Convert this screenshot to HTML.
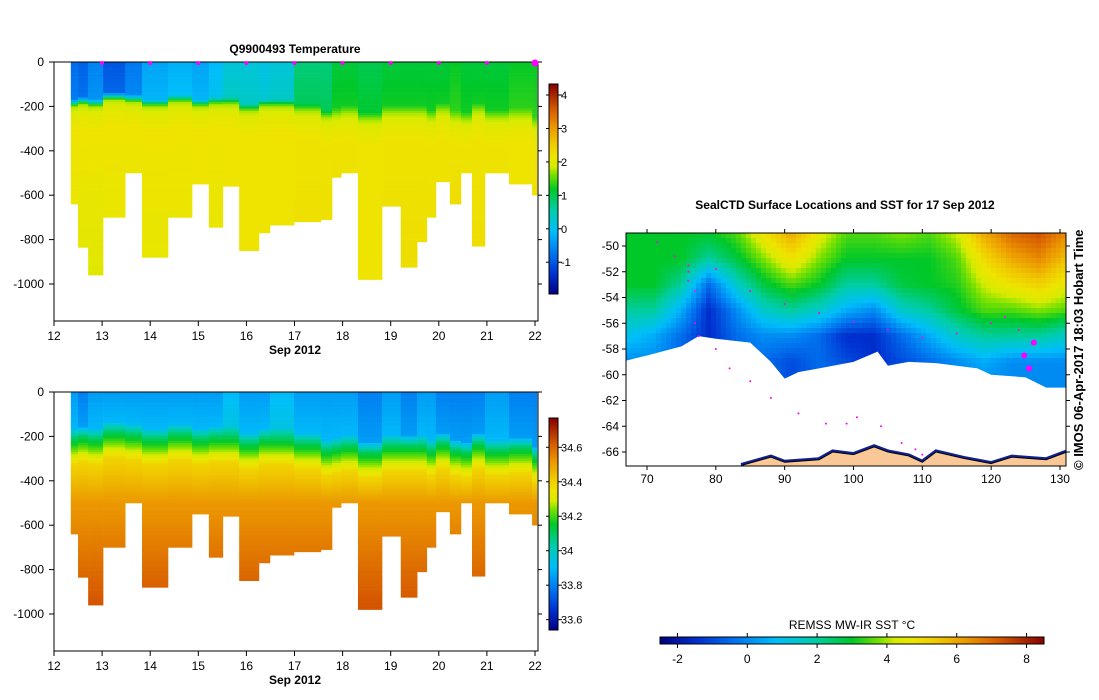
<!DOCTYPE html>
<html><head><meta charset="utf-8">
<style>
body{margin:0;background:#fff;width:1099px;height:700px;overflow:hidden}
svg{display:block;font-family:"Liberation Sans","DejaVu Sans",sans-serif}
text{font-size:12px;fill:#000}
.b{font-weight:bold}
</style></head>
<body>
<svg id="s" width="1099" height="700"></svg>
<script>
// ---- profile data ----
const colDay=[12.35,12.50,12.71,13.02,13.48,13.83,14.37,14.87,15.22,15.51,15.85,16.26,16.49,16.99,17.55,17.78,17.97,18.32,18.82,19.21,19.55,19.75,19.94,20.23,20.46,20.69,20.96,21.46,21.94,22.04];
const colDepth=[640,835,960,700,500,880,700,550,745,560,850,770,735,720,710,520,500,980,650,925,810,700,540,640,500,830,500,550,600];
const surfT=[-0.8,-0.9,-0.6,-1.0,-0.7,-0.3,-0.2,-0.3,-0.1,0.2,0.2,0.1,0.2,0.8,0.8,1.1,1.1,1.0,1.1,1.1,1.1,1.1,1.1,1.2,1.1,1.1,1.1,1.2,1.2];
const mld=[170,160,170,140,150,170,150,170,160,160,190,170,170,190,220,210,200,230,200,200,200,220,190,220,230,190,220,210,250];
const deepT=[2.1,2.0,2.0,2.1,2.1,2.1,2.1,2.2,2.1,2.2,2.2,2.2,2.2,2.3,2.3,2.4,2.3,2.2,2.3,2.3,2.3,2.3,2.3,2.4,2.3,2.3,2.3,2.2,2.3];
const surfS=[33.85,33.8,33.85,33.85,33.85,33.85,33.85,33.85,33.85,33.9,33.85,33.85,33.9,33.85,33.85,33.85,33.85,33.8,33.85,33.8,33.85,33.85,33.8,33.8,33.8,33.8,33.85,33.8,33.8];
const dayTicks=[12,13,14,15,16,17,18,19,20,21,22];
const depthTicks=[0,-200,-400,-600,-800,-1000];
const tTicks=[-1,0,1,2,3,4];
const sTicks=[33.6,33.8,34,34.2,34.4,34.6];
// ---- map data ----
const sstLons=[67,71,75,79,83,87,91,95,99,103,107,111,115,119,123,127,131];
const sstLats=[-49,-51,-53,-55,-57,-59,-61];
const sstRows=[
[3,3,3,3,3.5,4.8,6,4.5,3.5,3.5,3.8,3.5,4.2,6,7,7.3,6.5],
[3,3,3,2,2.8,3.8,4.8,3.8,3,3,3,3,3.5,5,6,6.5,5.5],
[3,3,2,-0.5,1.5,2.8,3.5,3,2,2,2.8,3,3.2,4.2,4.8,5.2,4.5],
[2,2,0.5,-1.5,0,1.5,2,1.5,0.5,0,1.5,2,2.8,3.5,3.5,3.8,3.5],
[1,0.5,-0.5,-1.5,-0.5,0,0,-0.5,-1.5,-1.5,-0.5,0.5,1.5,2,2,2,1.5],
[0,0,-0.5,-1,-0.5,-0.5,-1,-0.5,-1,-1.5,-1,-0.5,0,0.5,0,0,0],
[0,0,0,0,0,-0.5,-1,-0.5,0,0,0,0,0,0,0,0,0]];
const iceLon=[67,70,75,77.5,80,85,88,90,92,95,100,103.5,105,108,112,118,120,125,128,131];
const iceLat=[-58.9,-58.5,-57.8,-57,-57.2,-57.5,-59,-60.3,-59.8,-59.5,-59,-58.2,-59.3,-59,-59.1,-59.5,-60,-60.2,-61,-61];
const landLon=[84,88,90,95,97,100,103,105,108,110,112,116,120,123,128,131];
const landLat=[-67,-66.4,-66.8,-66.6,-66,-66.2,-65.6,-66,-66.3,-66.8,-66,-66.5,-66.9,-66.4,-66.6,-66];
const trackLon=[71.5,74,76,76,77,77,77.5,80,82,85,88,92,96,99,100.5,104,107,109,110, 76,80,85,90,95,100,105,110,115,120,122,124,124.8,125.5,126.2];
const trackLat=[-49.7,-50.8,-52,-52.7,-53.5,-56,-57,-58,-59.5,-60.5,-61.8,-63,-63.8,-63.8,-63.3,-64,-65.3,-65.8,-66.2, -51.5,-51.8,-53.5,-54.5,-55.2,-55.9,-56.5,-57.1,-56.8,-56,-55.5,-56.5,-58.5,-59.5,-57.5];
const sstTicks=[-2,0,2,4,6,8];
const lonTicks=[70,80,90,100,110,120,130];
const latTicks=[-50,-52,-54,-56,-58,-60,-62,-64,-66];

const NS="http://www.w3.org/2000/svg";
const svg=document.getElementById('s');
function el(tag,attrs,parent){const e=document.createElementNS(NS,tag);for(const k in attrs)e.setAttribute(k,attrs[k]);(parent||svg).appendChild(e);return e;}
function txt(x,y,s,anchor,cls,parent){const t=el('text',{x:x,y:y,'text-anchor':anchor||'middle'},parent);if(cls)t.setAttribute('class',cls);t.textContent=s;return t;}
const stops=[[0,0,0,130],[0.1,0,50,210],[0.2,0,120,240],[0.3,0,190,250],[0.4,0,205,170],[0.5,0,200,40],[0.57,120,225,0],[0.61,215,235,0],[0.66,238,228,0],[0.72,240,200,0],[0.8,235,150,0],[0.88,215,90,0],[1,135,0,0]];
function cmap(f){f=Math.max(0,Math.min(1,f));for(let i=1;i<stops.length;i++){if(f<=stops[i][0]){const a=stops[i-1],b=stops[i],t=(f-a[0])/(b[0]-a[0]);return `rgb(${Math.round(a[1]+t*(b[1]-a[1]))},${Math.round(a[2]+t*(b[2]-a[2]))},${Math.round(a[3]+t*(b[3]-a[3]))})`;}}return 'rgb(135,0,0)';}
function lerp(x,xs,ys){if(x<=xs[0])return ys[0];for(let i=1;i<xs.length;i++)if(x<=xs[i])return ys[i-1]+(x-xs[i-1])/(xs[i]-xs[i-1])*(ys[i]-ys[i-1]);return ys[ys.length-1];}

function tempAt(i,z){const m=mld[i];if(z<m)return surfT[i]+z/m*0.15;return lerp(z,[m,m+30,m+80,m+150,1000],[surfT[i]+0.2,1.75,2.05,2.2,deepT[i]]);}
function salAt(i,z){const m=mld[i];if(z<m)return surfS[i]+z/m*0.05;return lerp(z,[m,m+40,m+160,500,950],[surfS[i]+0.1,34.1,34.4,34.52,34.63]);}

function panel(oy,name,title,valFn,vmin,vmax,ticks,cbTop,cbBot,fmt){
  const g=el('g',{},svg);
  
  
  const X0=54,X1=538,Y0=oy,pxm=0.222;
  const xS=d=>X0+(d-12)*48.1, yS=z=>Y0+z*pxm;
  for(let i=0;i<colDepth.length;i++){
    const x0=xS(colDay[i]),x1=xS(colDay[i+1]);
    for(let z=0;z<colDepth[i];z+=10){
      const r=el('rect',{x:x0,y:yS(z),width:x1-x0+0.3,height:Math.min(10,colDepth[i]-z)*pxm+0.3,fill:cmap((valFn(i,z+5)-vmin)/(vmax-vmin))},g);
      
      
    }
  }
  const fr=el('rect',{x:X0,y:Y0,width:X1-X0,height:259,fill:'none',stroke:'#000','stroke-width':1},g);
  
  
  dayTicks.forEach(d=>{const x=xS(d);el('line',{x1:x,x2:x,y1:Y0+259,y2:Y0+264,stroke:'#000'},g);const t=txt(x,Y0+278,d,'middle','',g);});
  depthTicks.forEach(v=>{const y=yS(-v);el('line',{x1:X0-5,x2:X0,y1:y,y2:y,stroke:'#000'},g);el('line',{x1:X1,x2:X1+4,y1:y,y2:y,stroke:'#000'},g);const t=txt(X0-10,y+4,v,'end','',g);});
  const xt=txt(295,Y0+292,'Sep 2012','middle','b',g);
  if(title){const tt=txt(295,Y0-9,title,'middle','b',g);}
  const cx=549,cw=9;
  for(let y=cbTop;y<cbBot;y++){el('rect',{x:cx,y:y,width:cw,height:1.2,fill:cmap(1-(y-cbTop)/(cbBot-cbTop))},g);}
  const cb=el('rect',{x:cx,y:cbTop,width:cw,height:cbBot-cbTop,fill:'none',stroke:'#000'},g);
  
  
  ticks.forEach(v=>{const y=cbBot-(v-vmin)/(vmax-vmin)*(cbBot-cbTop);el('line',{x1:cx+cw,x2:cx+cw+4,y1:y,y2:y,stroke:'#000'},g);el('line',{x1:cx-3,x2:cx,y1:y,y2:y,stroke:'#000'},g);const t=txt(cx+cw+3,y+4,fmt(v),'start','',g);t.style.fontSize='11px';});
  return {xS,Y0,g};
}
const p1=panel(62,'temperature-panel','Q9900493  Temperature',tempAt,-1.95,4.33,tTicks,84,294,v=>v);
dayTicks.forEach(d=>{if(d>12){const m=el('circle',{cx:p1.xS(d),cy:63,r:d==22?3.5:2,fill:'#f0f'},p1.g);}});
panel(392,'salinity-panel','',salAt,33.54,34.77,sTicks,418,630,v=>String(v));

// ---- map ----
const mg=el('g',{},svg);


const MX0=626,MX1=1066,MY0=233,MY1=466;
const lx=lon=>647+(lon-70)*6.883, ly=lat=>246+(-50-lat)*12.875;
const sMin=-2.5,sMax=8.5;
const cp=el('clipPath',{id:'mc'},mg);el('rect',{x:MX0,y:MY0,width:MX1-MX0,height:MY1-MY0},cp);
const mi=el('g',{'clip-path':'url(#mc)'},mg);
function sstAt(lon,lat){
  const ci=Math.max(0,Math.min(sstLons.length-1.001,(lon-sstLons[0])/4));
  const ri=Math.max(0,Math.min(sstLats.length-1.001,(sstLats[0]-lat)/2));
  const c=Math.floor(ci),r=Math.floor(ri),fc=ci-c,fr=ri-r;
  const a=sstRows[r][c],b=sstRows[r][c+1],cc=sstRows[r+1][c],dd=sstRows[r+1][c+1];
  return (a*(1-fc)+b*fc)*(1-fr)+(cc*(1-fc)+dd*fc)*fr;
}
const step=5;
for(let y=MY0;y<ly(-62);y+=step)for(let x=MX0;x<MX1;x+=step){
  const lon=70+(x+step/2-647)/6.883, lat=-50-(y+step/2-246)/12.875;
  const cell=el('rect',{x:x,y:y,width:step+0.3,height:step+0.3,fill:cmap((sstAt(lon,lat)-sMin)/(sMax-sMin))},mi);
  
  
}
let d=`M${lx(62)},${ly(iceLat[0])}`;iceLon.forEach((lo,i)=>d+=` L${lx(lo)},${ly(iceLat[i])}`);d+=` L${lx(135)},${ly(iceLat[iceLat.length-1])} L${lx(135)},${ly(-70)} L${lx(62)},${ly(-70)}Z`;
const ice=el('path',{d:d,fill:'#fff'},mi);
let ld=`M${lx(landLon[0])},${ly(-68)}`;landLon.forEach((lo,i)=>ld+=` L${lx(lo)},${ly(landLat[i])}`);ld+=` L${lx(135)},${ly(landLat[landLat.length-1])} L${lx(135)},${ly(-68)}Z`;
const coast=el('path',{d:ld,fill:'none',stroke:'#102090','stroke-width':5},mi);
const land=el('path',{d:ld,fill:'#fac896',stroke:'#000','stroke-width':1},mi);
for(let i=0;i<trackLon.length;i++){
  const big=trackLon[i]>124;
  const p=el('circle',{cx:lx(trackLon[i]),cy:ly(trackLat[i]),r:big?3:1,fill:'#f0f'},mi);
  
  
}
const mf=el('rect',{x:MX0,y:MY0,width:MX1-MX0,height:MY1-MY0,fill:'none',stroke:'#000'},mg);
lonTicks.forEach(v=>{const x=lx(v);el('line',{x1:x,x2:x,y1:MY1,y2:MY1+4,stroke:'#000'},mg);el('line',{x1:x,x2:x,y1:MY0-4,y2:MY0,stroke:'#000'},mg);const t=txt(x,MY1+17,v,'middle','',mg);});
latTicks.forEach(v=>{const y=ly(v);el('line',{x1:MX0-4,x2:MX0,y1:y,y2:y,stroke:'#000'},mg);el('line',{x1:MX1,x2:MX1+4,y1:y,y2:y,stroke:'#000'},mg);const t=txt(MX0-7,y+4,v,'end','',mg);});
const mt=txt(845,209,'SealCTD Surface Locations and SST for 17 Sep 2012','middle','b',mg);
const cr=txt(0,0,'© IMOS 06-Apr-2017 18:03 Hobart Time','start','b',svg);cr.setAttribute('transform','translate(1083,470) rotate(-90)');cr.style.fontSize='13px';


const sg=el('g',{},svg);


const BX0=660,BX1=1044;
for(let x=BX0;x<BX1;x++)el('rect',{x:x,y:637,width:1.2,height:7,fill:cmap((x-BX0)/(BX1-BX0))},sg);
el('rect',{x:BX0,y:637,width:BX1-BX0,height:7,fill:'none',stroke:'#000'},sg);
sstTicks.forEach(v=>{const x=BX0+(v-sMin)/(sMax-sMin)*(BX1-BX0);el('line',{x1:x,x2:x,y1:644,y2:648,stroke:'#000'},sg);el('line',{x1:x,x2:x,y1:633,y2:637,stroke:'#000'},sg);const t=txt(x,663,v,'middle','',sg);});
const st=txt(852,629,'REMSS MW-IR SST °C','middle','',sg);
</script>
</body></html>
